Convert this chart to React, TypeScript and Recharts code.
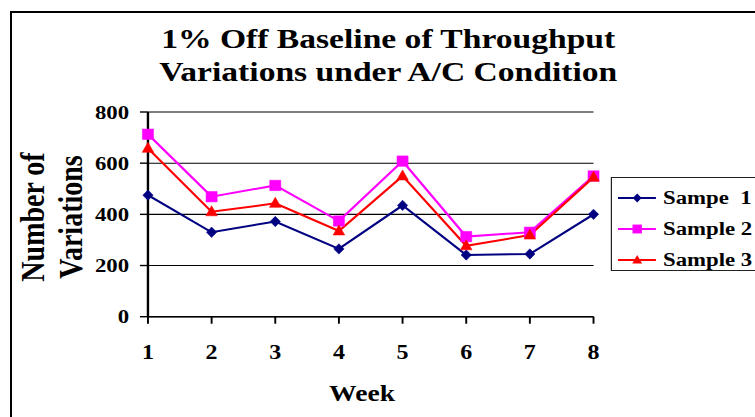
import React from 'react';
import { LineChart, Line, XAxis, YAxis, CartesianGrid, Legend, Customized } from 'recharts';

const weeks = ['1', '2', '3', '4', '5', '6', '7', '8'];
const sample1 = [475, 330, 372, 265, 435, 241, 245, 400];
const sample2 = [713, 469, 513, 374, 608, 313, 330, 550];
const sample3 = [658, 410, 443, 335, 550, 277, 319, 545];
const yTicks = [0, 200, 400, 600, 800];
const seriesNames = ['Sampe\u00a0 1', 'Sample 2', 'Sample 3'];
const titleLines = ['1% Off Baseline of Throughput', 'Variations under A/C Condition'];
const yLabelLines = ['Number of', 'Variations'];
const xLabel = 'Week';

const data = weeks.map((w, i) => ({ week: w, s1: sample1[i], s2: sample2[i], s3: sample3[i] }));

const FONT = '"Liberation Serif", "Times New Roman", serif';
const SX = 1.2;
const W = 630;
const H = 417;

const colors = ['#000080', '#FF00FF', '#FF0000'];
const shapes = ['diamond', 'square', 'triangle'];

function shapePath(shape: string, cx: number, cy: number, k: number) {
  if (shape === 'diamond') {
    const w = 4.3 * k, h = 5.2 * k;
    return `M${cx},${cy - h}L${cx + w},${cy}L${cx},${cy + h}L${cx - w},${cy}Z`;
  }
  if (shape === 'square') {
    const w = 4.6 * k, h = 5.2 * k;
    return `M${cx - w},${cy - h}L${cx + w},${cy - h}L${cx + w},${cy + h}L${cx - w},${cy + h}Z`;
  }
  const w = 4.8 * k;
  return `M${cx},${cy - 6 * k}L${cx + w},${cy + 4 * k}L${cx - w},${cy + 4 * k}Z`;
}

function makeDot(idx: number) {
  return (p: any) => (
    <path
      key={`d${idx}-${p.index}`}
      d={shapePath(shapes[idx], p.cx, p.cy, 1)}
      fill={colors[idx]}
      stroke={colors[idx]}
      strokeWidth={0.5}
    />
  );
}

const Texts = () => (
  <g fontFamily={FONT} fontWeight="bold" fill="#000">
    <text x={323.5} y={48.3} textAnchor="middle" fontSize={28}>{titleLines[0]}</text>
    <text x={323.5} y={81.3} textAnchor="middle" fontSize={28}>{titleLines[1]}</text>
    <text x={36.7} y={217} textAnchor="middle" fontSize={28} transform="rotate(-90, 36.7, 217)">{yLabelLines[0]}</text>
    <text x={68.3} y={217} textAnchor="middle" fontSize={28} transform="rotate(-90, 68.3, 217)">{yLabelLines[1]}</text>
    <text x={301.7} y={401} textAnchor="middle" fontSize={23}>{xLabel}</text>
  </g>
);

const LegendBox = () => (
  <div
    style={{
      width: 140,
      height: 94,
      border: '1.5px solid #222',
      boxSizing: 'border-box',
      background: '#fff',
    }}
  >
    <svg width={140} height={92} style={{ display: 'block' }}>
      {seriesNames.map((n, i) => {
        const cy = [20, 51, 82][i];
        return (
          <g key={n}>
            <line x1={5} x2={36.6} y1={cy} y2={cy} stroke={colors[i]} strokeWidth={2} />
            <path d={shapePath(shapes[i], 21, cy, 0.85)} fill={colors[i]} />
            <text x={42.5} y={cy + 6.5} fontFamily={FONT} fontWeight="bold" fontSize={19} fill="#000" style={{ whiteSpace: 'pre' }}>
              {n}
            </text>
          </g>
        );
      })}
    </svg>
  </div>
);

export default function App() {
  return (
    <div style={{ position: 'absolute', left: 0, top: 0, width: 755, height: 417, overflow: 'hidden', background: '#fff' }}>
      <div
        style={{
          position: 'absolute',
          left: 10,
          top: 11,
          width: 900,
          height: 600,
          border: '2px solid #000',
          boxSizing: 'border-box',
        }}
      />
      <div
        style={{
          position: 'absolute',
          left: 0,
          top: 0,
          width: W,
          height: H,
          transform: `scaleX(${SX})`,
          transformOrigin: '0 0',
          fontFamily: FONT,
        }}
      >
        <LineChart width={W} height={H} data={data} margin={{ top: 112, right: 135.4, bottom: 70.3, left: 63.3 }}>
          <CartesianGrid vertical={false} stroke="#000" strokeWidth={1.1} />
          <XAxis
            dataKey="week"
            axisLine={{ stroke: '#000', strokeWidth: 1.6 }}
            tickLine={{ stroke: '#000', strokeWidth: 1.6 }}
            tickSize={7}
            tickMargin={21}
            height={30}
            interval={0}
            tick={{ fill: '#000', fontSize: 20, fontWeight: 'bold', fontFamily: FONT }}
          />
          <YAxis
            domain={[0, 800]}
            ticks={yTicks}
            width={60}
            axisLine={{ stroke: '#000', strokeWidth: 2 }}
            tickLine={{ stroke: '#000', strokeWidth: 1.4 }}
            tickSize={6.7}
            tickMargin={9}
            tick={{ fill: '#000', fontSize: 19, fontWeight: 'bold', fontFamily: FONT }}
          />
          <Line dataKey="s1" name={seriesNames[0]} stroke={colors[0]} strokeWidth={2} dot={makeDot(0)} isAnimationActive={false} />
          <Line dataKey="s2" name={seriesNames[1]} stroke={colors[1]} strokeWidth={2} dot={makeDot(1)} isAnimationActive={false} />
          <Line dataKey="s3" name={seriesNames[2]} stroke={colors[2]} strokeWidth={2} dot={makeDot(2)} isAnimationActive={false} />
          <Legend
            layout="horizontal"
            verticalAlign="middle"
            align="center"
            wrapperStyle={{ position: 'absolute', left: 509.2, top: 177, width: 140, height: 94 }}
            content={LegendBox}
          />
          <Customized component={Texts} />
        </LineChart>
      </div>
    </div>
  );
}
